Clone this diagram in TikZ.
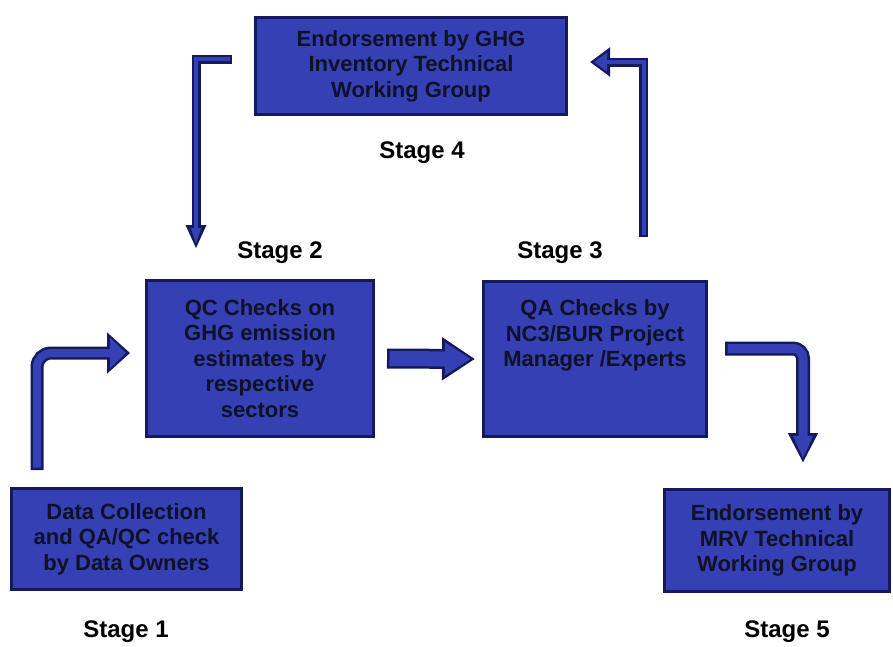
\documentclass[tikz,border=0pt]{standalone}
\usepackage{fontspec}
\setmainfont{Liberation Sans}
\usetikzlibrary{arrows.meta}
\definecolor{boxfill}{RGB}{52,64,180}
\definecolor{boxline}{RGB}{20,26,92}
\definecolor{boxtext}{RGB}{16,16,38}
\newcommand{\boxfont}{\fontsize{22}{25.5}\selectfont\bfseries}
\newcommand{\stagefont}{\fontsize{24}{28}\selectfont\bfseries}
\tikzset{
  stagebox/.style={draw=boxline, fill=boxfill, line width=3pt, text=boxtext, font=\boxfont, align=center, inner sep=0pt},
  stagelabel/.style={font=\stagefont, inner sep=0pt},
  flow/.style n args={3}{
    /utils/exec={\pgfmathsetmacro\flowlw{#1+5}\pgfmathsetmacro\flowhw{#2+10}\pgfmathsetmacro\flowhl{#3+7}},
    draw=boxfill, line width=#1pt, -{Triangle[width=#2pt,length=#3pt]},
    shorten <=2.5pt, shorten >=4pt,
    preaction={draw=boxline, line width=\flowlw pt, -{Triangle[width=\flowhw pt,length=\flowhl pt]}, shorten <=0pt, shorten >=0pt}
  }
}
\begin{document}
\begin{tikzpicture}[x=1pt, y=-1pt]
  \useasboundingbox (0,0) rectangle (893,646);
  \node (1) at (126.5,539) [stagebox, minimum width=230pt, minimum height=101pt] {Data Collection\\and QA/QC check\\by Data Owners};
  \node (2) at (260,358.5) [stagebox, minimum width=227pt, minimum height=156pt] {QC Checks on\\GHG emission\\estimates by\\respective\\sectors};
  \node (3) at (595,359) [stagebox, minimum width=223pt, minimum height=155pt] {QA Checks by\\NC3/BUR Project\\Manager /Experts\\~\\~};
  \node (4) at (411,66) [stagebox, minimum width=311pt, minimum height=97pt] {Endorsement by GHG\\Inventory Technical\\Working Group};
  \node (5) at (777,540.5) [stagebox, minimum width=225pt, minimum height=102pt] {Endorsement by\\MRV Technical\\Working Group};
  \node (s1) at (126,632) [stagelabel] {Stage 1};
  \node (s2) at (280,253) [stagelabel] {Stage 2};
  \node (s3) at (560,253) [stagelabel] {Stage 3};
  \node (s4) at (422,153) [stagelabel] {Stage 4};
  \node (s5) at (787,632) [stagelabel] {Stage 5};
  \draw[flow={8}{30}{16}, rounded corners=14pt] ([shift={(27,-17)}]1.north west) |- ([shift={(-15,-5.5)}]2.west);
  \draw[flow={15}{31}{26}] ([shift={(12,0)}]2.east) -- ([shift={(-7,0)}]3.west);
  \draw[flow={9}{18}{23}, rounded corners=10pt] ([shift={(17,-10.5)}]3.east) -| ([shift={(26,-25)}]5.north);
  \draw[flow={4}{18}{13}] ([shift={(48.5,-43)}]3.north) |- ([shift={(22,-4)}]4.east);
  \draw[flow={4}{9}{17}] ([shift={(-22,-7)}]4.west) -| ([shift={(-64,-30)}]2.north);
\end{tikzpicture}
\end{document}
